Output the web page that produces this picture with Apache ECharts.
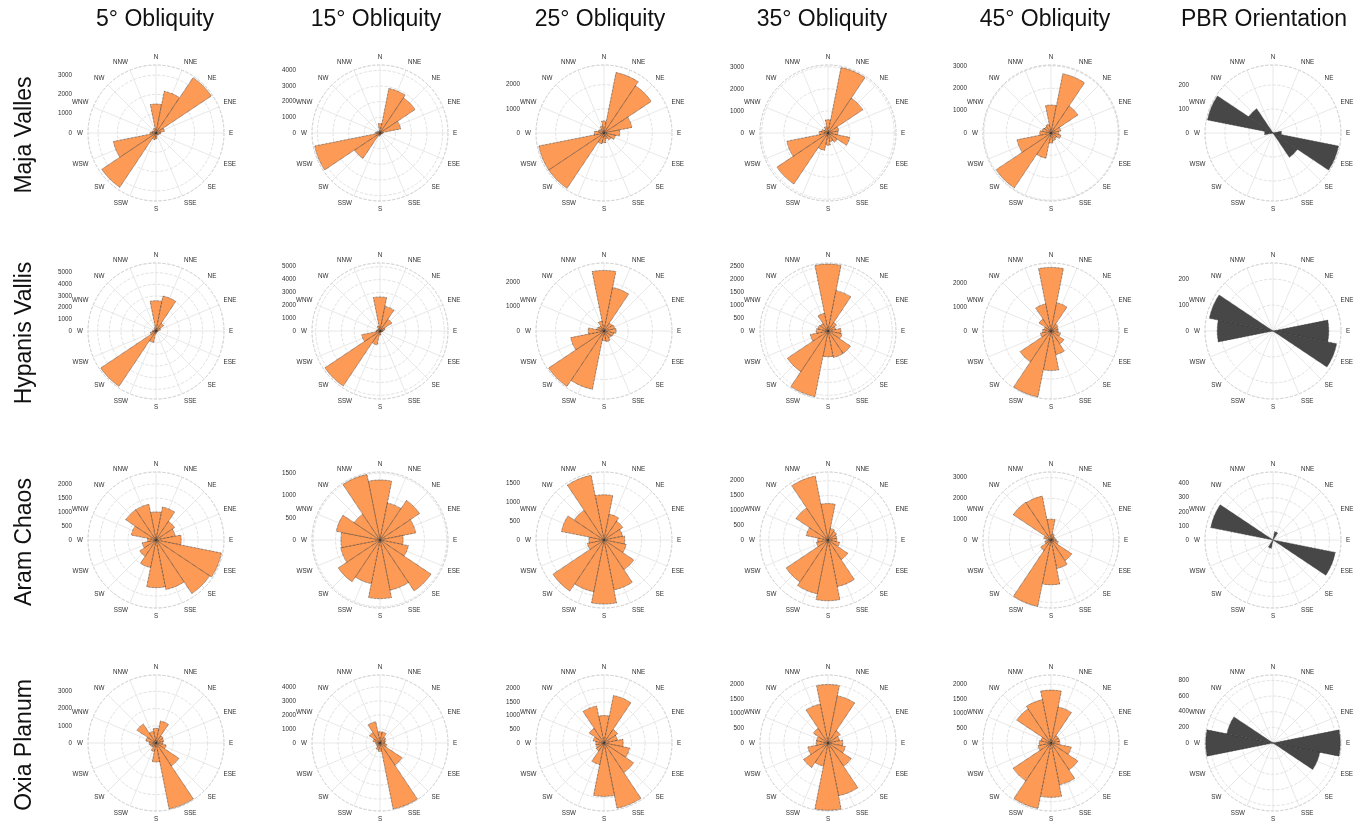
<!DOCTYPE html>
<html>
<head>
<meta charset="utf-8">
<title>Rose diagrams</title>
<script src="https://cdn.jsdelivr.net/npm/echarts@6/dist/echarts.min.js"></script>
<style>
  html, body { margin: 0; padding: 0; background: #ffffff; }
  #chart { width: 1358px; height: 822px; }
</style>
</head>
<body>
<div id="chart"></div>
<script>
// Compass bins, clockwise from north (22.5° each)
const DIRS = ['N','NNE','NE','ENE','E','ESE','SE','SSE','S','SSW','SW','WSW','W','WNW','NW','NNW'];

const COL_TITLES = ['5° Obliquity', '15° Obliquity', '25° Obliquity', '35° Obliquity', '45° Obliquity', 'PBR Orientation'];
const ROW_TITLES = ['Maja Valles', 'Hypanis Vallis', 'Aram Chaos', 'Oxia Planum'];

// Counts per direction bin
const MAJA_05  = [1500, 2200, 3450, 450, 250, 150, 150, 100, 300, 350, 3380, 2250, 300, 200, 150, 250];
const MAJA_15  = [600, 2900, 2700, 1350, 200, 100, 100, 100, 150, 200, 1950, 4250, 300, 200, 100, 150];
const MAJA_25  = [500, 2550, 2350, 1180, 650, 480, 350, 250, 400, 450, 2750, 2750, 400, 250, 200, 300];
const MAJA_35  = [600, 3020, 1900, 500, 450, 1000, 500, 400, 550, 800, 2780, 1900, 400, 300, 200, 300];
const MAJA_45  = [1250, 2700, 1450, 450, 350, 450, 300, 350, 450, 1150, 2950, 1550, 500, 400, 350, 400];
const MAJA_PBR = [0, 0, 0, 0, 35, 278, 122, 0, 0, 0, 0, 0, 35, 278, 122, 0];

const HYPANIS_05  = [2600, 3050, 800, 400, 200, 100, 100, 100, 200, 1000, 5700, 500, 300, 200, 150, 300];
const HYPANIS_15  = [2650, 1950, 1100, 400, 250, 150, 100, 150, 300, 1100, 5150, 1450, 300, 200, 200, 400];
const HYPANIS_25  = [2500, 1830, 400, 450, 500, 400, 350, 450, 400, 2450, 2750, 1400, 650, 300, 250, 420];
const HYPANIS_35  = [2600, 1600, 400, 300, 500, 550, 1050, 1050, 1000, 2600, 1900, 700, 450, 400, 350, 700];
const HYPANIS_45  = [2650, 1200, 350, 300, 300, 400, 650, 1000, 1650, 2800, 1550, 450, 350, 300, 600, 1150];
const HYPANIS_PBR = [0, 0, 0, 0, 215, 250, 0, 0, 0, 0, 0, 0, 215, 250, 0, 0];

const ARAM_05  = [1000, 1200, 800, 700, 900, 2380, 2300, 1800, 1700, 1000, 700, 500, 300, 900, 1300, 1300];
const ARAM_15  = [1350, 850, 1070, 820, 520, 650, 1380, 1150, 1320, 1000, 1130, 900, 880, 1000, 700, 1500];
const ARAM_25  = [1200, 700, 600, 500, 550, 600, 950, 1350, 1700, 1400, 1630, 450, 400, 1150, 950, 1750];
const ARAM_35  = [1230, 400, 350, 300, 300, 400, 800, 1600, 2050, 1850, 1700, 400, 350, 750, 1300, 2200];
const ARAM_45  = [1000, 300, 200, 200, 250, 350, 1200, 1400, 2150, 3250, 600, 300, 200, 350, 2180, 2150];
const ARAM_PBR = [0, 60, 0, 0, 0, 450, 0, 0, 0, 60, 0, 0, 0, 450, 0, 0];

const OXIA_05  = [850, 1300, 500, 450, 400, 600, 1600, 3900, 1100, 500, 300, 350, 400, 600, 1330, 700];
const OXIA_15  = [800, 800, 500, 400, 350, 500, 1900, 4800, 600, 500, 300, 250, 300, 500, 900, 1550];
const OXIA_25  = [1000, 1770, 600, 500, 700, 950, 1300, 2430, 1950, 800, 350, 300, 300, 400, 650, 1380];
const OXIA_35  = [1990, 1640, 500, 400, 500, 600, 950, 1830, 2290, 800, 1000, 700, 400, 400, 600, 1350];
const OXIA_45  = [1800, 1250, 300, 300, 300, 700, 1100, 1450, 1850, 2270, 1550, 450, 400, 350, 1400, 1500];
const OXIA_PBR = [0, 0, 0, 0, 860, 610, 0, 0, 0, 0, 0, 0, 860, 600, 0, 0];

// Radial extent and tick step of every panel (rows x columns)
const RADIAL_MAX = [
  [3523, 4344, 2814, 3080, 3041, 283],
  [5827, 5289, 2805, 2644, 2833, 262],
  [2427, 1530, 1804, 2295, 3268, 482],
  [3948, 4854, 2484, 2314, 2314, 869]
];
const RADIAL_STEP = [
  [1000, 1000, 1000, 1000, 1000, 100],
  [1000, 1000, 1000, 500, 1000, 100],
  [500, 500, 500, 500, 1000, 100],
  [1000, 1000, 500, 500, 500, 200]
];

const PANELS = [
  [MAJA_05, MAJA_15, MAJA_25, MAJA_35, MAJA_45, MAJA_PBR],
  [HYPANIS_05, HYPANIS_15, HYPANIS_25, HYPANIS_35, HYPANIS_45, HYPANIS_PBR],
  [ARAM_05, ARAM_15, ARAM_25, ARAM_35, ARAM_45, ARAM_PBR],
  [OXIA_05, OXIA_15, OXIA_25, OXIA_35, OXIA_45, OXIA_PBR]
];

// Page layout
const COL_X = [156, 380, 604, 828, 1051, 1273];
const TITLE_X = [155, 376, 600, 822, 1045, 1264];
const ROW_Y = [133, 331, 540, 743];
const R = 68;
const FONT = '"Liberation Sans", Arial, Helvetica, sans-serif';
const ORANGE = '#fd9a55';
const DARK = '#474747';

const polar = [];
const angleAxis = [];
const radiusAxis = [];
const series = [];

PANELS.forEach((row, ri) => {
  row.forEach((values, ci) => {
    const center = [COL_X[ci], ROW_Y[ri]];
    const rmax = RADIAL_MAX[ri][ci];
    const isPbr = ci === row.length - 1;

    // grid: compass spokes, dashed rings, labels
    const gi = polar.length;
    polar.push({ center: center, radius: R });
    angleAxis.push({
      polarIndex: gi,
      type: 'value', min: 0, max: 360, interval: 22.5,
      startAngle: 90, clockwise: true,
      axisLine: { lineStyle: { color: '#cfcfcf', type: 'dashed', width: 0.8 } },
      axisTick: { show: false },
      splitLine: { lineStyle: { color: '#e2e2e2', width: 0.8 } },
      axisLabel: {
        margin: 5, fontSize: 6.3, color: '#2f2f2f', fontFamily: FONT,
        formatter: v => (v >= 360 ? '' : DIRS[Math.round(v / 22.5)])
      }
    });
    radiusAxis.push({
      polarIndex: gi,
      type: 'value', min: 0, max: rmax, interval: RADIAL_STEP[ri][ci],
      axisLine: { show: false },
      axisTick: { show: false },
      splitLine: { lineStyle: { color: '#d9d9d9', type: 'dashed', width: 0.8 } },
      axisLabel: {
        margin: 84, fontSize: 6.3, color: '#2f2f2f', fontFamily: FONT,
        showMaxLabel: false, interval: 0,
        formatter: v => String(v)
      }
    });

    // bars: one sector per compass bin, centred on its direction
    const bi = polar.length;
    polar.push({ center: center, radius: R });
    angleAxis.push({
      polarIndex: bi, type: 'category', data: DIRS,
      startAngle: 90 + 11.25, clockwise: true, show: false
    });
    radiusAxis.push({ polarIndex: bi, type: 'value', min: 0, max: rmax, show: false });
    series.push({
      type: 'bar',
      coordinateSystem: 'polar',
      polarIndex: bi,
      data: values,
      barCategoryGap: '0%',
      silent: true,
      itemStyle: {
        color: isPbr ? DARK : ORANGE,
        borderColor: '#2a2a2a',
        borderWidth: 0.7,
        borderType: 'dotted'
      }
    });
  });
});

const graphic = [];
COL_TITLES.forEach((t, i) => {
  graphic.push({
    type: 'text', x: TITLE_X[i], y: 20,
    style: { text: t, font: '23px ' + FONT, fill: '#111', textAlign: 'center', textVerticalAlign: 'middle' }
  });
});
ROW_TITLES.forEach((t, i) => {
  graphic.push({
    type: 'text', x: 25, y: ROW_Y[i] + 2, rotation: Math.PI / 2,
    style: { text: t, font: '23px ' + FONT, fill: '#111', textAlign: 'center', textVerticalAlign: 'middle' }
  });
});

const chart = echarts.init(document.getElementById('chart'), null, { renderer: 'canvas' });
chart.setOption({
  backgroundColor: '#ffffff',
  animation: false,
  textStyle: { fontFamily: FONT },
  polar: polar,
  angleAxis: angleAxis,
  radiusAxis: radiusAxis,
  series: series,
  graphic: graphic
});
</script>
</body>
</html>
